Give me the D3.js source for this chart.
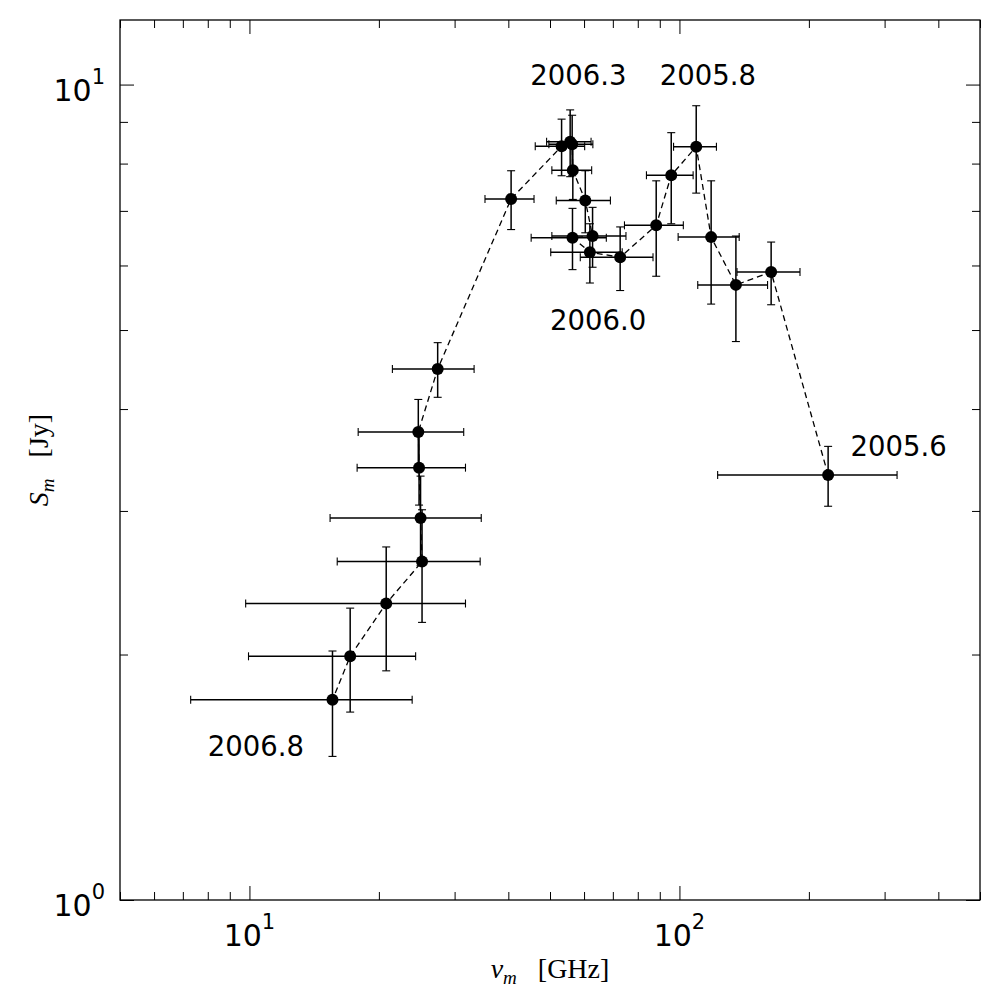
<!DOCTYPE html>
<html>
<head>
<meta charset="utf-8">
<script src="https://cdn.jsdelivr.net/npm/d3@7"></script>
<style>
  body { margin: 0; background: #fff; }
  svg { display: block; }
</style>
</head>
<body>
<svg id="chart" width="1000" height="1000"></svg>
<script>
// turnover frequency / peak flux, in time order (2005.6 first, 2006.8 last)
const freq    = [221.7, 163.4, 135.3, 118.5, 109.4, 95.7, 88.3, 72.8, 61.9, 56.4, 62.8, 60.4, 56.5, 56.3, 55.7, 53.2, 40.6, 27.4, 24.7, 24.8, 25.0, 25.2, 20.8, 17.15, 15.6];
const freqErr = [99, 27.3, 25, 19.2, 12.5, 11.9, 13.8, 14, 11.7, 11.2, 12.3, 8.7, 6.0, 6.6, 6.6, 7.0, 5.3, 5.9, 6.8, 7.0, 9.6, 9.2, 11.0, 7.2, 8.3];
const flux    = [3.32, 5.89, 5.68, 6.50, 8.39, 7.74, 6.72, 6.14, 6.23, 6.49, 6.52, 7.21, 7.85, 8.45, 8.51, 8.40, 7.24, 4.48, 3.75, 3.39, 2.94, 2.60, 2.31, 1.99, 1.76];
const fluxErr = [0.28, 0.52, 0.84, 1.12, 1.03, 0.99, 0.90, 0.55, 0.52, 0.56, 0.55, 0.63, 0.62, 0.72, 0.80, 0.67, 0.60, 0.345, 0.36, 0.34, 0.37, 0.41, 0.40, 0.29, 0.26];

// epoch annotations (data coords of text start)
const epochLabels = ["2006.8", "2006.3", "2005.8", "2006.0", "2005.6"];
const epochFreq   = [8, 45, 90, 50, 250];
const epochFlux   = [1.5, 10, 10, 5, 3.5];

const xMajor = [10, 100];
const yMajor = [1, 10];

const width = 1000;
const height = 1000;
const margin = { top: 20, right: 20, bottom: 100, left: 120 };

const x = d3.scaleLog().domain([5, 500]).range([margin.left, width - margin.right]);
const y = d3.scaleLog().domain([1, 12]).range([height - margin.bottom, margin.top]);

const svg = d3.select("#chart");

const points = freq.map((f, i) => ({ f, fe: freqErr[i], s: flux[i], se: fluxErr[i] }));

const xMinor = x.ticks().filter(t => !xMajor.includes(t));
const yMinor = y.ticks().filter(t => !yMajor.includes(t));

// ticks on all four sides, pointing inward
const majorLen = 14, minorLen = 8;
const x0 = margin.left, x1 = width - margin.right;
const y0 = height - margin.bottom, y1 = margin.top;

function drawAxis(axis, tr) {
    const g = svg.append("g").attr("transform", tr).call(axis);
    g.select(".domain").remove();
    g.selectAll(".tick line").attr("stroke", "#000").attr("stroke-width", 1);
    g.selectAll(".tick text").remove();
}

drawAxis(d3.axisBottom(x).tickValues(xMajor).tickSize(-majorLen), `translate(0,${y0})`);
drawAxis(d3.axisBottom(x).tickValues(xMinor).tickSize(-minorLen), `translate(0,${y0})`);
drawAxis(d3.axisTop(x).tickValues(xMajor).tickSize(-majorLen), `translate(0,${y1})`);
drawAxis(d3.axisTop(x).tickValues(xMinor).tickSize(-minorLen), `translate(0,${y1})`);
drawAxis(d3.axisLeft(y).tickValues(yMajor).tickSize(-majorLen), `translate(${x0},0)`);
drawAxis(d3.axisLeft(y).tickValues(yMinor).tickSize(-minorLen), `translate(${x0},0)`);
drawAxis(d3.axisRight(y).tickValues(yMajor).tickSize(-majorLen), `translate(${x1},0)`);
drawAxis(d3.axisRight(y).tickValues(yMinor).tickSize(-minorLen), `translate(${x1},0)`);

// frame
svg.append("rect")
    .attr("x", x0).attr("y", y1)
    .attr("width", x1 - x0).attr("height", y0 - y1)
    .attr("fill", "none")
    .attr("stroke", "#000")
    .attr("stroke-width", 1.3);

// tick labels as 10^n
const tickFont = "'DejaVu Sans', sans-serif";
xMajor.forEach(v => {
    const t = svg.append("text")
        .attr("x", x(v)).attr("y", y0 + 46)
        .attr("text-anchor", "middle")
        .attr("font-family", tickFont).attr("font-size", 30);
    t.append("tspan").text("10");
    t.append("tspan").attr("dy", -17).attr("font-size", 21).text(Math.round(Math.log10(v)));
});
yMajor.forEach(v => {
    const t = svg.append("text")
        .attr("x", x0 - 15).attr("y", y(v) + 16)
        .attr("text-anchor", "end")
        .attr("font-family", tickFont).attr("font-size", 30);
    t.append("tspan").text("10");
    t.append("tspan").attr("dy", -17).attr("font-size", 21).text(Math.round(Math.log10(v)));
});

// axis titles
const serif = "'Liberation Serif', 'DejaVu Serif', serif";
const xt = svg.append("text")
    .attr("x", (x0 + x1) / 2).attr("y", 978)
    .attr("text-anchor", "middle")
    .attr("font-family", serif).attr("font-size", 28);
xt.append("tspan").attr("font-style", "italic").text("ν");
xt.append("tspan").attr("font-style", "italic").attr("font-size", 19).attr("dy", 6).text("m");
xt.append("tspan").attr("dy", -6).attr("xml:space", "preserve").text("   [GHz]");

const yt = svg.append("text")
    .attr("transform", `translate(48,${(y0 + y1) / 2}) rotate(-90)`)
    .attr("text-anchor", "middle")
    .attr("font-family", serif).attr("font-size", 28);
yt.append("tspan").attr("font-style", "italic").text("S");
yt.append("tspan").attr("font-style", "italic").attr("font-size", 19).attr("dy", 6).text("m");
yt.append("tspan").attr("dy", -6).attr("xml:space", "preserve").text("   [Jy]");

// dashed track through the epochs
const line = d3.line().x(d => x(d.f)).y(d => y(d.s));
svg.append("path")
    .datum(points)
    .attr("d", line)
    .attr("fill", "none")
    .attr("stroke", "#000")
    .attr("stroke-width", 1.3)
    .attr("stroke-dasharray", "6,4");

// error bars
const cap = 4;
const eb = svg.append("g").attr("stroke", "#000").attr("stroke-width", 1.5);
points.forEach(d => {
    const cx = x(d.f), cy = y(d.s);
    const xl = x(d.f - d.fe), xr = x(d.f + d.fe);
    const yt = y(d.s + d.se), yb = y(d.s - d.se);
    eb.append("line").attr("x1", xl).attr("x2", xr).attr("y1", cy).attr("y2", cy);
    eb.append("line").attr("x1", cx).attr("x2", cx).attr("y1", yt).attr("y2", yb);
    eb.append("line").attr("x1", xl).attr("x2", xl).attr("y1", cy - cap).attr("y2", cy + cap).attr("stroke-width", 1.1);
    eb.append("line").attr("x1", xr).attr("x2", xr).attr("y1", cy - cap).attr("y2", cy + cap).attr("stroke-width", 1.1);
    eb.append("line").attr("x1", cx - cap).attr("x2", cx + cap).attr("y1", yt).attr("y2", yt).attr("stroke-width", 1.1);
    eb.append("line").attr("x1", cx - cap).attr("x2", cx + cap).attr("y1", yb).attr("y2", yb).attr("stroke-width", 1.1);
});

// markers
svg.append("g")
    .selectAll("circle")
    .data(points)
    .enter()
    .append("circle")
    .attr("cx", d => x(d.f))
    .attr("cy", d => y(d.s))
    .attr("r", 6)
    .attr("fill", "#000");

// epoch labels
epochLabels.forEach((lab, i) => {
    svg.append("text")
        .attr("x", x(epochFreq[i]))
        .attr("y", y(epochFlux[i]))
        .attr("font-family", tickFont)
        .attr("font-size", 27.5)
        .attr("fill", "#000")
        .text(lab);
});
</script>
</body>
</html>
